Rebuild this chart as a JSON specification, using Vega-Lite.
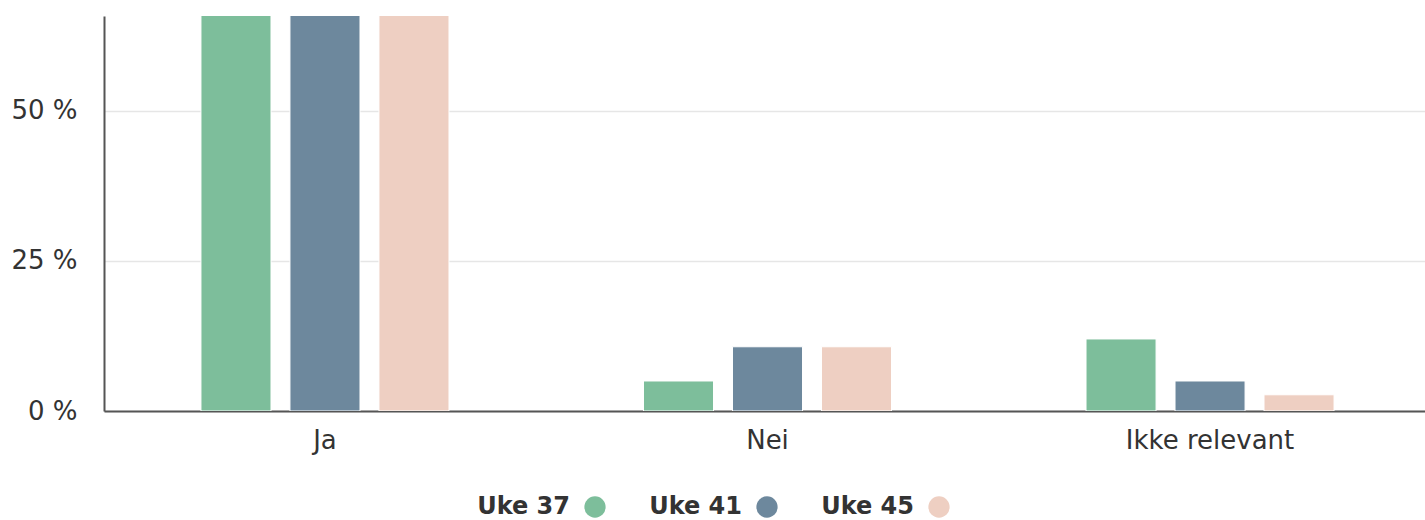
{
  "$schema": "https://vega.github.io/schema/vega-lite/v6.json",
  "autosize": "none",
  "width": 1321,
  "height": 395,
  "padding": {"left": 104, "top": 16, "right": 0, "bottom": 109},
  "background": "white",
  "config": {
    "view": {"stroke": null},
    "font": "DejaVu Sans"
  },
  "data": {
    "values": [
      {"svar": "Ja", "uke": "Uke 37", "pct": 83},
      {"svar": "Ja", "uke": "Uke 41", "pct": 84.3},
      {"svar": "Ja", "uke": "Uke 45", "pct": 86.6},
      {"svar": "Nei", "uke": "Uke 37", "pct": 5},
      {"svar": "Nei", "uke": "Uke 41", "pct": 10.7},
      {"svar": "Nei", "uke": "Uke 45", "pct": 10.7},
      {"svar": "Ikke relevant", "uke": "Uke 37", "pct": 12},
      {"svar": "Ikke relevant", "uke": "Uke 41", "pct": 5},
      {"svar": "Ikke relevant", "uke": "Uke 45", "pct": 2.7}
    ]
  },
  "mark": {"type": "bar", "stroke": "white", "strokeWidth": 1, "clip": true},
  "encoding": {
    "x": {
      "field": "svar",
      "type": "nominal",
      "sort": ["Ja", "Nei", "Ikke relevant"],
      "scale": {"paddingInner": 0.4395, "paddingOuter": 0.2123, "align": 0.516},
      "axis": {
        "title": null,
        "labelAngle": 0,
        "ticks": false,
        "domainColor": "#555555",
        "domainWidth": 2,
        "labelFontSize": 26,
        "labelColor": "#333333",
        "labelPadding": 16
      }
    },
    "xOffset": {
      "field": "uke",
      "type": "nominal",
      "scale": {"paddingInner": 0.213, "paddingOuter": 0}
    },
    "y": {
      "field": "pct",
      "type": "quantitative",
      "scale": {"domain": [0, 65.8], "nice": false},
      "axis": {
        "title": null,
        "values": [0, 25, 50],
        "labelExpr": "datum.value + ' %'",
        "ticks": false,
        "domainColor": "#555555",
        "domainWidth": 2,
        "gridColor": "#e6e6e6",
        "gridWidth": 1.5,
        "labelFontSize": 26,
        "labelColor": "#333333",
        "labelPadding": 27
      }
    },
    "color": {
      "field": "uke",
      "type": "nominal",
      "scale": {
        "domain": ["Uke 37", "Uke 41", "Uke 45"],
        "range": ["#7dbe9b", "#6d889d", "#eecfc2"]
      },
      "legend": {
        "title": null,
        "orient": "none",
        "direction": "horizontal",
        "legendX": 479,
        "legendY": 479,
        "symbolType": "circle",
        "symbolSize": 452,
        "symbolStrokeWidth": 0,
        "labelFontSize": 24,
        "labelFontWeight": "bold",
        "labelColor": "#333333",
        "labelAlign": "right",
        "labelOffset": -37,
        "columnPadding": 43
      }
    }
  }
}
